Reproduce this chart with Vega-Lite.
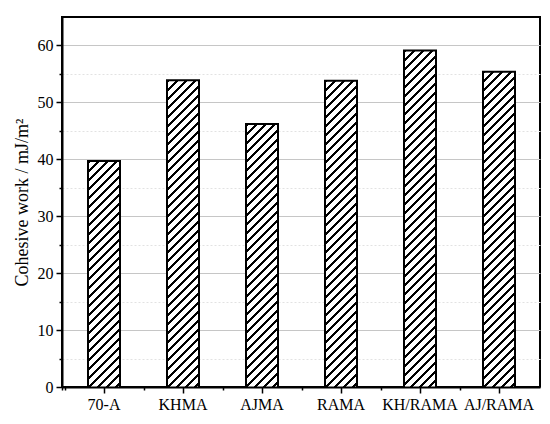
{
  "$schema": "https://vega.github.io/schema/vega-lite/v6.json",
  "width": 478,
  "height": 370,
  "autosize": {"type": "none"},
  "padding": {"left": 62, "top": 17, "right": 10, "bottom": 37},
  "background": "white",
  "config": {
    "font": "Liberation Serif",
    "view": {"stroke": "black", "strokeWidth": 2},
    "axis": {
      "labelFont": "Liberation Serif",
      "titleFont": "Liberation Serif",
      "labelColor": "black",
      "titleColor": "black",
      "domainColor": "black",
      "domainWidth": 2,
      "tickColor": "black",
      "tickWidth": 1.5
    }
  },
  "data": {
    "values": [
      {"sample": "70-A", "work": 39.7},
      {"sample": "KHMA", "work": 53.9},
      {"sample": "AJMA", "work": 46.2},
      {"sample": "RAMA", "work": 53.8},
      {"sample": "KH/RAMA", "work": 59.1},
      {"sample": "AJ/RAMA", "work": 55.4}
    ]
  },
  "resolve": {"axis": {"x": "independent"}},
  "layer": [
    {
      "mark": {
        "type": "bar",
        "clip": true,
        "stroke": "black",
        "strokeWidth": 2,
        "y2Offset": 370,
        "fill": {
          "gradient": "linear",
          "x1": 0, "y1": 0, "x2": 0.087701, "y2": 1.014037,
          "stops": [
            {"offset": 0, "color": "#000"}, {"offset": 0.00794, "color": "#000"}, {"offset": 0.00794, "color": "#fff"}, {"offset": 0.02381, "color": "#fff"},
            {"offset": 0.02381, "color": "#000"}, {"offset": 0.03175, "color": "#000"}, {"offset": 0.03175, "color": "#fff"}, {"offset": 0.04762, "color": "#fff"},
            {"offset": 0.04762, "color": "#000"}, {"offset": 0.05556, "color": "#000"}, {"offset": 0.05556, "color": "#fff"}, {"offset": 0.07143, "color": "#fff"},
            {"offset": 0.07143, "color": "#000"}, {"offset": 0.07937, "color": "#000"}, {"offset": 0.07937, "color": "#fff"}, {"offset": 0.09524, "color": "#fff"},
            {"offset": 0.09524, "color": "#000"}, {"offset": 0.10318, "color": "#000"}, {"offset": 0.10318, "color": "#fff"}, {"offset": 0.11905, "color": "#fff"},
            {"offset": 0.11905, "color": "#000"}, {"offset": 0.12699, "color": "#000"}, {"offset": 0.12699, "color": "#fff"}, {"offset": 0.14286, "color": "#fff"},
            {"offset": 0.14286, "color": "#000"}, {"offset": 0.1508, "color": "#000"}, {"offset": 0.1508, "color": "#fff"}, {"offset": 0.16667, "color": "#fff"},
            {"offset": 0.16667, "color": "#000"}, {"offset": 0.17461, "color": "#000"}, {"offset": 0.17461, "color": "#fff"}, {"offset": 0.19048, "color": "#fff"},
            {"offset": 0.19048, "color": "#000"}, {"offset": 0.19842, "color": "#000"}, {"offset": 0.19842, "color": "#fff"}, {"offset": 0.21429, "color": "#fff"},
            {"offset": 0.21429, "color": "#000"}, {"offset": 0.22223, "color": "#000"}, {"offset": 0.22223, "color": "#fff"}, {"offset": 0.2381, "color": "#fff"},
            {"offset": 0.2381, "color": "#000"}, {"offset": 0.24604, "color": "#000"}, {"offset": 0.24604, "color": "#fff"}, {"offset": 0.2619, "color": "#fff"},
            {"offset": 0.2619, "color": "#000"}, {"offset": 0.26984, "color": "#000"}, {"offset": 0.26984, "color": "#fff"}, {"offset": 0.28571, "color": "#fff"},
            {"offset": 0.28571, "color": "#000"}, {"offset": 0.29365, "color": "#000"}, {"offset": 0.29365, "color": "#fff"}, {"offset": 0.30952, "color": "#fff"},
            {"offset": 0.30952, "color": "#000"}, {"offset": 0.31746, "color": "#000"}, {"offset": 0.31746, "color": "#fff"}, {"offset": 0.33333, "color": "#fff"},
            {"offset": 0.33333, "color": "#000"}, {"offset": 0.34127, "color": "#000"}, {"offset": 0.34127, "color": "#fff"}, {"offset": 0.35714, "color": "#fff"},
            {"offset": 0.35714, "color": "#000"}, {"offset": 0.36508, "color": "#000"}, {"offset": 0.36508, "color": "#fff"}, {"offset": 0.38095, "color": "#fff"},
            {"offset": 0.38095, "color": "#000"}, {"offset": 0.38889, "color": "#000"}, {"offset": 0.38889, "color": "#fff"}, {"offset": 0.40476, "color": "#fff"},
            {"offset": 0.40476, "color": "#000"}, {"offset": 0.4127, "color": "#000"}, {"offset": 0.4127, "color": "#fff"}, {"offset": 0.42857, "color": "#fff"},
            {"offset": 0.42857, "color": "#000"}, {"offset": 0.43651, "color": "#000"}, {"offset": 0.43651, "color": "#fff"}, {"offset": 0.45238, "color": "#fff"},
            {"offset": 0.45238, "color": "#000"}, {"offset": 0.46032, "color": "#000"}, {"offset": 0.46032, "color": "#fff"}, {"offset": 0.47619, "color": "#fff"},
            {"offset": 0.47619, "color": "#000"}, {"offset": 0.48413, "color": "#000"}, {"offset": 0.48413, "color": "#fff"}, {"offset": 0.5, "color": "#fff"},
            {"offset": 0.5, "color": "#000"}, {"offset": 0.50794, "color": "#000"}, {"offset": 0.50794, "color": "#fff"}, {"offset": 0.52381, "color": "#fff"},
            {"offset": 0.52381, "color": "#000"}, {"offset": 0.53175, "color": "#000"}, {"offset": 0.53175, "color": "#fff"}, {"offset": 0.54762, "color": "#fff"},
            {"offset": 0.54762, "color": "#000"}, {"offset": 0.55556, "color": "#000"}, {"offset": 0.55556, "color": "#fff"}, {"offset": 0.57143, "color": "#fff"},
            {"offset": 0.57143, "color": "#000"}, {"offset": 0.57937, "color": "#000"}, {"offset": 0.57937, "color": "#fff"}, {"offset": 0.59524, "color": "#fff"},
            {"offset": 0.59524, "color": "#000"}, {"offset": 0.60318, "color": "#000"}, {"offset": 0.60318, "color": "#fff"}, {"offset": 0.61905, "color": "#fff"},
            {"offset": 0.61905, "color": "#000"}, {"offset": 0.62699, "color": "#000"}, {"offset": 0.62699, "color": "#fff"}, {"offset": 0.64286, "color": "#fff"},
            {"offset": 0.64286, "color": "#000"}, {"offset": 0.6508, "color": "#000"}, {"offset": 0.6508, "color": "#fff"}, {"offset": 0.66667, "color": "#fff"},
            {"offset": 0.66667, "color": "#000"}, {"offset": 0.67461, "color": "#000"}, {"offset": 0.67461, "color": "#fff"}, {"offset": 0.69048, "color": "#fff"},
            {"offset": 0.69048, "color": "#000"}, {"offset": 0.69842, "color": "#000"}, {"offset": 0.69842, "color": "#fff"}, {"offset": 0.71429, "color": "#fff"},
            {"offset": 0.71429, "color": "#000"}, {"offset": 0.72223, "color": "#000"}, {"offset": 0.72223, "color": "#fff"}, {"offset": 0.7381, "color": "#fff"},
            {"offset": 0.7381, "color": "#000"}, {"offset": 0.74604, "color": "#000"}, {"offset": 0.74604, "color": "#fff"}, {"offset": 0.7619, "color": "#fff"},
            {"offset": 0.7619, "color": "#000"}, {"offset": 0.76984, "color": "#000"}, {"offset": 0.76984, "color": "#fff"}, {"offset": 0.78571, "color": "#fff"},
            {"offset": 0.78571, "color": "#000"}, {"offset": 0.79365, "color": "#000"}, {"offset": 0.79365, "color": "#fff"}, {"offset": 0.80952, "color": "#fff"},
            {"offset": 0.80952, "color": "#000"}, {"offset": 0.81746, "color": "#000"}, {"offset": 0.81746, "color": "#fff"}, {"offset": 0.83333, "color": "#fff"},
            {"offset": 0.83333, "color": "#000"}, {"offset": 0.84127, "color": "#000"}, {"offset": 0.84127, "color": "#fff"}, {"offset": 0.85714, "color": "#fff"},
            {"offset": 0.85714, "color": "#000"}, {"offset": 0.86508, "color": "#000"}, {"offset": 0.86508, "color": "#fff"}, {"offset": 0.88095, "color": "#fff"},
            {"offset": 0.88095, "color": "#000"}, {"offset": 0.88889, "color": "#000"}, {"offset": 0.88889, "color": "#fff"}, {"offset": 0.90476, "color": "#fff"},
            {"offset": 0.90476, "color": "#000"}, {"offset": 0.9127, "color": "#000"}, {"offset": 0.9127, "color": "#fff"}, {"offset": 0.92857, "color": "#fff"},
            {"offset": 0.92857, "color": "#000"}, {"offset": 0.93651, "color": "#000"}, {"offset": 0.93651, "color": "#fff"}, {"offset": 0.95238, "color": "#fff"},
            {"offset": 0.95238, "color": "#000"}, {"offset": 0.96032, "color": "#000"}, {"offset": 0.96032, "color": "#fff"}, {"offset": 0.97619, "color": "#fff"},
            {"offset": 0.97619, "color": "#000"}, {"offset": 0.98413, "color": "#000"}, {"offset": 0.98413, "color": "#fff"}, {"offset": 1, "color": "#fff"}
          ]
        }
      },
      "encoding": {
        "x": {
          "field": "sample",
          "type": "nominal",
          "sort": null,
          "scale": {"paddingInner": 0.6, "paddingOuter": 0.3, "round": true},
          "axis": {
            "title": null,
            "orient": "bottom",
            "labelAngle": 0,
            "labelFontSize": 16,
            "labelPadding": 3,
            "tickSize": 6,
            "zindex": 1
          }
        },
        "y": {
          "field": "work",
          "type": "quantitative",
          "scale": {"domain": [0, 65], "nice": false},
          "axis": {
            "title": "Cohesive work / mJ/m²",
            "titleFontSize": 18,
            "titleFontWeight": "normal",
            "titlePadding": 6,
            "values": [0, 5, 10, 15, 20, 25, 30, 35, 40, 45, 50, 55, 60],
            "labelExpr": "datum.value % 10 === 0 ? datum.label : ''",
            "labelFontSize": 16,
            "labelPadding": 3,
            "grid": true,
            "gridColor": {"condition": {"test": "datum.value % 10 === 5", "value": "#e2e2e2"}, "value": "#c6c6c6"},
            "gridDash": {"condition": {"test": "datum.value % 10 === 5", "value": [2, 2]}, "value": []},
            "gridWidth": 1,
            "tickSize": {"condition": {"test": "datum.value % 10 === 5", "value": 3}, "value": 6}
          }
        },
        "y2": {"field": "work"}
      }
    },
    {
      "mark": {"type": "rule", "opacity": 0},
      "encoding": {
        "x": {
          "field": "sample",
          "type": "nominal",
          "sort": null,
          "axis": {
            "title": null,
            "orient": "bottom",
            "labels": false,
            "domain": false,
            "grid": false,
            "bandPosition": 0,
            "tickOffset": -23.5,
            "tickExtra": true,
            "tickSize": 3,
            "zindex": 1
          }
        }
      }
    }
  ]
}
